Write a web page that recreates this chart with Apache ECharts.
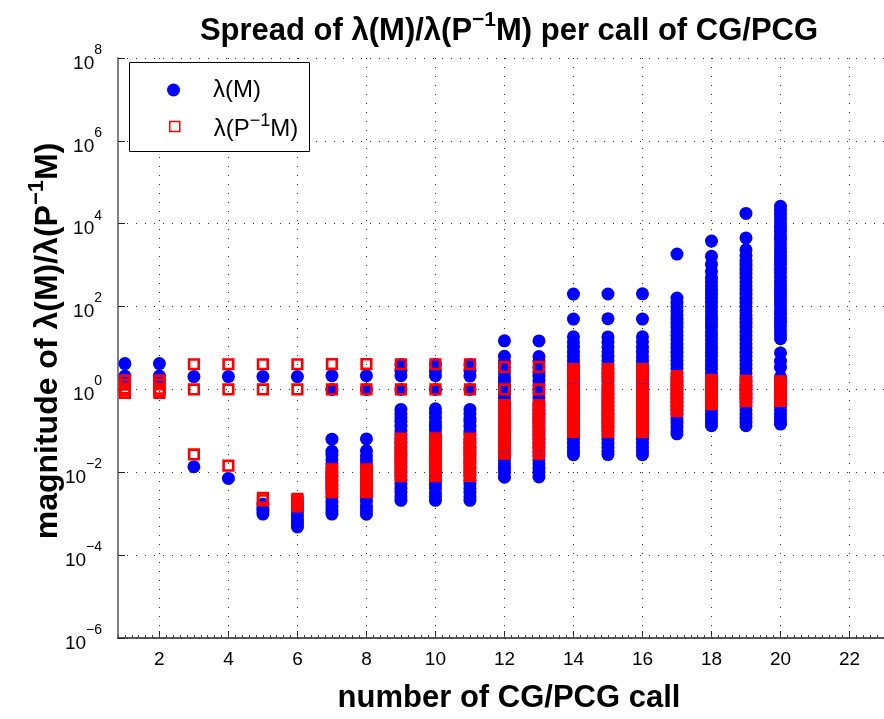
<!DOCTYPE html>
<html><head><meta charset="utf-8">
<script src="https://cdn.jsdelivr.net/npm/echarts@6/dist/echarts.min.js"></script>
<style>html,body{margin:0;padding:0;background:#fff}#c{width:884px;height:719px}</style>
</head><body><div id="c"></div>
<script>
// ---- data ----
const calls = [1,2,3,4,5,6,7,8,9,10,11,12,13,14,15,16,17,18,19,20];
const xTicks = [2,4,6,8,10,12,14,16,18,20,22];
const yTicks = [1e-6, 1e-4, 1e-2, 1, 1e2, 1e4, 1e6, 1e8];

// λ(M) values per call
const lambdaM = [
  [4.2, 2.1, 1.7],
  [4.2, 2.1, 1.6],
  [2.04, 0.0136],
  [2.04, 0.0071],
  [2.04, 0.0017, 0.0014, 0.0012, 0.00098],
  [2.04, 0.002, 0.0016, 0.0013, 0.0011, 0.0009, 0.00075, 0.00063, 0.00054, 0.00048],
  [2.15, 1.0, 0.063, 0.032, 0.026, 0.02, 0.016, 0.013, 0.01, 0.0079, 0.0063, 0.005, 0.004, 0.0032, 0.0025, 0.0019, 0.0015, 0.0012, 0.00098],
  [2.15, 1.0, 0.064, 0.033, 0.025, 0.02, 0.016, 0.0125, 0.01, 0.0081, 0.0064, 0.0051, 0.004, 0.0031, 0.0025, 0.002, 0.0015, 0.0012, 0.00097],
  [4.0, 2.9, 2.15, 1.0, 0.33, 0.26, 0.21, 0.17, 0.13, 0.1, 0.082, 0.065, 0.052, 0.041, 0.033, 0.026, 0.021, 0.017, 0.013, 0.01, 0.0082, 0.0065, 0.0052, 0.0041, 0.0033, 0.0026, 0.0021],
  [4.0, 2.8, 2.15, 1.0, 0.34, 0.27, 0.21, 0.16, 0.13, 0.105, 0.08, 0.066, 0.051, 0.042, 0.033, 0.027, 0.021, 0.016, 0.013, 0.0102, 0.0081, 0.0064, 0.0051, 0.0041, 0.0032, 0.0026, 0.0021],
  [4.0, 2.9, 2.1, 1.0, 0.33, 0.26, 0.2, 0.17, 0.13, 0.1, 0.083, 0.064, 0.052, 0.04, 0.033, 0.026, 0.02, 0.017, 0.013, 0.01, 0.0083, 0.0064, 0.0052, 0.0041, 0.0033, 0.0026, 0.0021],
  [14.9, 6.3, 4.6, 3.5, 2.6, 2.0, 1.6, 1.25, 1.0, 0.79, 0.63, 0.5, 0.4, 0.32, 0.25, 0.2, 0.16, 0.126, 0.1, 0.079, 0.063, 0.05, 0.04, 0.032, 0.025, 0.02, 0.016, 0.0126, 0.01, 0.0076],
  [14.8, 6.2, 4.7, 3.4, 2.6, 2.1, 1.6, 1.26, 1.0, 0.8, 0.62, 0.5, 0.41, 0.31, 0.25, 0.2, 0.16, 0.125, 0.1, 0.08, 0.063, 0.05, 0.04, 0.031, 0.025, 0.02, 0.016, 0.0125, 0.0099, 0.0077],
  [200, 50, 18.6, 14, 10.5, 8, 6.3, 5, 4, 3.2, 2.5, 2, 1.6, 1.26, 1.0, 0.79, 0.63, 0.5, 0.4, 0.32, 0.25, 0.2, 0.16, 0.126, 0.1, 0.079, 0.063, 0.05, 0.04, 0.032, 0.0266],
  [201, 51, 18.5, 14, 10.6, 8.1, 6.3, 5, 4, 3.2, 2.5, 2, 1.6, 1.25, 1.0, 0.8, 0.63, 0.5, 0.4, 0.32, 0.25, 0.2, 0.16, 0.125, 0.1, 0.08, 0.063, 0.05, 0.04, 0.032, 0.0268],
  [203, 50, 18.7, 14.1, 10.4, 8, 6.2, 5, 4, 3.1, 2.5, 2, 1.6, 1.26, 1.0, 0.79, 0.63, 0.5, 0.4, 0.32, 0.25, 0.2, 0.16, 0.126, 0.1, 0.079, 0.063, 0.05, 0.04, 0.032, 0.0265],
  [1850, 160, 125, 100, 79, 63, 50, 40, 32, 25, 20, 16, 12.6, 10, 7.9, 6.3, 5, 4, 3.2, 2.5, 2, 1.6, 1.26, 1, 0.79, 0.63, 0.5, 0.4, 0.32, 0.25, 0.2, 0.16, 0.126, 0.1, 0.085],
  [3800, 1630, 1040, 700, 500, 400, 316, 250, 200, 158, 126, 100, 79, 63, 50, 40, 32, 25, 20, 16, 12.6, 10, 7.9, 6.3, 5, 4, 3.2, 2.5, 2, 1.6, 1.26, 1, 0.79, 0.63, 0.5, 0.4, 0.32, 0.25, 0.2, 0.16, 0.133],
  [17700, 4550, 2350, 1700, 1260, 1000, 790, 630, 500, 400, 316, 250, 200, 158, 126, 100, 79, 63, 50, 40, 32, 25, 20, 16, 12.6, 10, 7.9, 6.3, 5, 4, 3.2, 2.5, 2, 1.6, 1.26, 1, 0.79, 0.63, 0.5, 0.4, 0.32, 0.25, 0.2, 0.16, 0.133],
  [26300, 21000, 16600, 13200, 10500, 8300, 6600, 5200, 4200, 3300, 2600, 2100, 1660, 1320, 1050, 830, 660, 520, 420, 330, 260, 210, 166, 132, 105, 83, 66, 52, 42, 33, 26, 21, 16.7, 7.6, 4.8, 3.4, 2.0, 1.6, 1.26, 1.0, 0.79, 0.63, 0.5, 0.4, 0.32, 0.25, 0.2, 0.16, 0.146]
];

// λ(P^-1 M) values per call
const lambdaPM = [
  [1.65, 1.3, 1.05, 0.93, 0.82],
  [1.65, 1.32, 1.04, 0.92, 0.82],
  [4.05, 1.0, 0.027],
  [4.05, 1.0, 0.0144],
  [4.05, 1.0, 0.0024, 0.0021],
  [4.05, 1.0, 0.0023, 0.0021, 0.0019, 0.0017, 0.0015],
  [4.1, 1.0, 0.0117, 0.0105, 0.0094, 0.0085, 0.0077, 0.0069, 0.0062, 0.0056, 0.0049, 0.0044, 0.004, 0.0036, 0.0033],
  [4.1, 1.0, 0.0118, 0.0106, 0.0095, 0.0085, 0.0076, 0.0068, 0.0061, 0.0055, 0.0049, 0.0044, 0.004, 0.0036, 0.0033],
  [4.05, 1.0, 0.065, 0.058, 0.052, 0.046, 0.041, 0.037, 0.033, 0.029, 0.026, 0.023, 0.0205, 0.018, 0.015, 0.0135, 0.0117, 0.0102, 0.0089, 0.0081],
  [4.05, 1.0, 0.066, 0.058, 0.052, 0.046, 0.042, 0.037, 0.033, 0.029, 0.026, 0.023, 0.0206, 0.018, 0.0152, 0.0134, 0.0118, 0.0101, 0.009, 0.0081],
  [4.05, 1.0, 0.065, 0.059, 0.052, 0.047, 0.041, 0.036, 0.032, 0.029, 0.026, 0.023, 0.0204, 0.018, 0.0151, 0.0136, 0.0116, 0.0102, 0.0088, 0.0082],
  [3.5, 1.0, 0.42, 0.38, 0.34, 0.3, 0.27, 0.24, 0.21, 0.19, 0.17, 0.15, 0.135, 0.12, 0.105, 0.094, 0.084, 0.075, 0.063, 0.049, 0.041, 0.035, 0.031, 0.028],
  [3.5, 1.0, 0.42, 0.37, 0.34, 0.3, 0.27, 0.24, 0.21, 0.19, 0.17, 0.15, 0.134, 0.12, 0.106, 0.094, 0.083, 0.075, 0.062, 0.049, 0.041, 0.035, 0.031, 0.028],
  [3.1, 2.8, 2.5, 2.25, 2.0, 1.0, 0.87, 0.8, 0.72, 0.64, 0.57, 0.51, 0.46, 0.41, 0.37, 0.33, 0.29, 0.26, 0.23, 0.21, 0.185, 0.165, 0.15, 0.135, 0.12, 0.11, 0.1, 0.095],
  [3.1, 2.8, 2.5, 2.24, 2.0, 1.0, 0.88, 0.8, 0.71, 0.64, 0.57, 0.51, 0.46, 0.41, 0.37, 0.33, 0.29, 0.26, 0.23, 0.21, 0.186, 0.166, 0.15, 0.134, 0.12, 0.11, 0.1, 0.095],
  [3.1, 2.8, 2.5, 2.25, 2.0, 1.0, 0.87, 0.79, 0.72, 0.64, 0.57, 0.51, 0.45, 0.41, 0.37, 0.33, 0.29, 0.26, 0.23, 0.21, 0.185, 0.165, 0.149, 0.135, 0.12, 0.11, 0.1, 0.094],
  [2.1, 1.9, 1.7, 1.5, 1.35, 1.2, 1.07, 0.95, 0.85, 0.76, 0.68, 0.6, 0.54, 0.48, 0.43, 0.39, 0.35, 0.32, 0.3],
  [1.7, 1.52, 1.36, 1.22, 1.09, 0.97, 0.87, 0.78, 0.7, 0.63, 0.56, 0.5, 0.46, 0.44],
  [1.62, 1.45, 1.3, 1.16, 1.04, 0.93, 0.83, 0.74, 0.66, 0.59, 0.54, 0.52],
  [1.56, 1.4, 1.25, 1.12, 1.0, 0.9, 0.8, 0.72, 0.65, 0.59, 0.55, 0.53]
];

const seriesNames = ['λ(M)', 'λ(P⁻¹M)'];
const titleText = ['Spread of λ(M)/λ(P', '−1', 'M) per call of CG/PCG'];
const yNameText = ['magnitude of λ(M)/λ(P', '−1', 'M)'];
const xNameText = 'number of CG/PCG call';

// ---- build ----
const FONT = '"Liberation Sans", Arial, Helvetica, sans-serif';
function toPoints(list) {
  const out = [];
  list.forEach((vals, i) => vals.forEach(v => out.push([calls[i], v])));
  return out;
}
const chart = echarts.init(document.getElementById('c'), null, {renderer: 'canvas'});
const supRich = (big, small, weight) => ({
  t: {fontFamily: FONT, fontSize: big, fontWeight: weight, color: '#000', lineHeight: big + 6, verticalAlign: 'bottom'},
  s: {fontFamily: FONT, fontSize: small, fontWeight: weight, color: '#000', lineHeight: big + 6, verticalAlign: 'top'}
});
const gridDots = {color: '#333', width: 1, type: [1, 8]};

chart.setOption({
  animation: false,
  backgroundColor: '#fff',
  grid: {left: 118, right: 0, top: 58, bottom: 61, containLabel: false},
  xAxis: [{
    type: 'value', min: 0.8, max: 23,
    name: xNameText, nameLocation: 'middle', nameGap: 45,
    nameTextStyle: {fontFamily: FONT, fontSize: 31, fontWeight: 'bold', color: '#000', padding: [0, 0, 0, 16]},
    axisLine: {show: true, onZero: false, lineStyle: {color: '#222', width: 1.5}},
    axisTick: {show: true, inside: true, length: 7, customValues: xTicks, lineStyle: {color: '#222', width: 1}},
    axisLabel: {customValues: xTicks, fontFamily: FONT, fontSize: 19, color: '#000', margin: 12},
    splitLine: {show: true, lineStyle: gridDots}
  }, {
    type: 'value', min: 0.8, max: 23, interval: 0.2, position: 'bottom',
    axisLine: {show: false}, axisLabel: {show: false}, splitLine: {show: false},
    axisTick: {show: true, inside: true, length: 3, lineStyle: {color: '#444', width: 1}}
  }],
  yAxis: {
    type: 'log', logBase: 10, min: 1e-6, max: 1e8,
    axisLine: {show: true, lineStyle: {color: '#808080', width: 2}},
    axisTick: {show: true, inside: true, length: 7, customValues: yTicks, lineStyle: {color: '#222', width: 1}},
    axisLabel: {
      customValues: yTicks,
      margin: 16,
      formatter: v => {
        const e = Math.round(Math.log10(v));
        return '{b|10}{e|' + (e < 0 ? '−' + (-e) : e) + '}';
      },
      rich: {
        b: {fontFamily: FONT, fontSize: 19, color: '#000', lineHeight: 30, verticalAlign: 'bottom'},
        e: {fontFamily: FONT, fontSize: 14, color: '#000', lineHeight: 30, verticalAlign: 'top'}
      }
    },
    splitLine: {show: true, lineStyle: gridDots}
  },
  legend: [
    {data: [seriesNames[0]], orient: 'vertical', left: 167, top: 78, padding: 0,
     itemWidth: 13, itemHeight: 13, icon: 'circle', z: 20,
     itemStyle: {color: '#0000ff'},
     formatter: () => '{p|λ(M)}',
     textStyle: {rich: {p: {fontFamily: FONT, fontSize: 24, color: '#000', padding: [0, 0, 0, 28]}}}},
    {data: [seriesNames[1]], orient: 'vertical', left: 169, top: 112, padding: 0,
     itemWidth: 10, itemHeight: 10, icon: 'rect', z: 20,
     itemStyle: {color: 'rgba(0,0,0,0)', borderColor: '#ff0000', borderWidth: 1.5},
     formatter: () => '{p|λ(P}{s|−1}{a|M)}',
     textStyle: {rich: {
       p: {fontFamily: FONT, fontSize: 24, color: '#000', lineHeight: 29, verticalAlign: 'bottom', padding: [0, 0, 0, 29]},
       a: {fontFamily: FONT, fontSize: 24, color: '#000', lineHeight: 29, verticalAlign: 'bottom'},
       s: {fontFamily: FONT, fontSize: 18, color: '#000', lineHeight: 29, verticalAlign: 'top'}
     }}}
  ],
  graphic: [
    {type: 'rect', z: 10, silent: true,
     shape: {x: 129.5, y: 62.5, width: 180, height: 89},
     style: {fill: '#fff', stroke: '#000', lineWidth: 1}},
    {type: 'text', z: 10, silent: true, x: 509, y: 28,
     style: {text: '{t|' + titleText[0] + '}{s|' + titleText[1] + '}{t|' + titleText[2] + '}',
             rich: supRich(31, 21, 'bold'), align: 'center', verticalAlign: 'middle'}},
    {type: 'text', z: 10, silent: true, x: 45, y: 341, rotation: Math.PI / 2,
     style: {text: '{t|' + yNameText[0] + '}{s|' + yNameText[1] + '}{t|' + yNameText[2] + '}',
             rich: supRich(32, 22, 'bold'), align: 'center', verticalAlign: 'middle'}}
  ],
  series: [
    {type: 'scatter', name: seriesNames[0], data: toPoints(lambdaM), symbol: 'circle', symbolSize: 13,
     itemStyle: {color: '#0000ff', opacity: 1}, emphasis: {disabled: true}, silent: true, z: 2},
    {type: 'scatter', name: seriesNames[1], data: toPoints(lambdaPM), symbol: 'rect', symbolSize: 9.6,
     itemStyle: {color: 'rgba(0,0,0,0)', borderColor: '#ff0000', borderWidth: 2.6, opacity: 1},
     emphasis: {disabled: true}, silent: true, z: 3}
  ]
});
</script></body></html>
